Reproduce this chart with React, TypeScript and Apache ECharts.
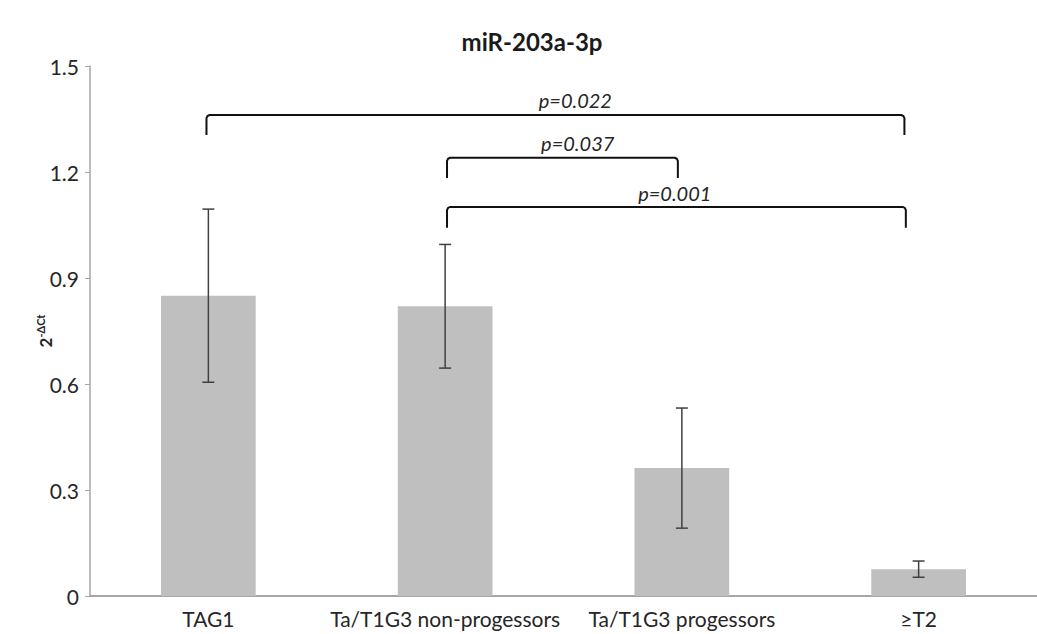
import React, { useEffect, useRef } from "react";
import * as echarts from "echarts";

const categories = ["TAG1", "Ta/T1G3 non-progessors", "Ta/T1G3 progessors", "≥T2"];
const means = [0.85, 0.82, 0.362, 0.076];
const errors = [0.245, 0.175, 0.17, 0.023];
const yTicks = [0, 0.3, 0.6, 0.9, 1.2, 1.5];

// significance brackets: left/right position in category units, bracket top & leg bottom values
const bracketLabels = ["p=0.022", "p=0.037", "p=0.001"];
const bracketLeft = [-0.008, 1.008, 1.008];
const bracketRight = [2.94, 1.983, 2.946];
const bracketTop = [1.361, 1.24, 1.101];
const bracketBottom = [1.305, 1.183, 1.042];
const labelX = [1.55, 1.56, 1.97];
const labelY = [1.404, 1.282, 1.141];

const FONT = "Lato, 'Open Sans', sans-serif";

export default function App() {
  const ref = useRef<HTMLDivElement>(null);
  useEffect(() => {
    if (!ref.current) return;
    const chart = echarts.init(ref.current, undefined, { renderer: "svg" });
    const errData = means.map((m, i) => [i, m - errors[i], m + errors[i]]);
    const brData = bracketLabels.map((_, i) => [0, bracketTop[i]]);
    const xAt = (api: any, f: number, y: number) => {
      const c0 = api.coord([0, y]);
      const c1 = api.coord([1, y]);
      return c0[0] + f * (c1[0] - c0[0]);
    };
    chart.setOption({
      animation: false,
      title: {
        text: "miR-203a-3p",
        left: 527,
        textAlign: "center",
        top: 24,
        textStyle: { fontFamily: FONT, fontWeight: "bold", fontSize: 24, color: "#1a1a1a" },
      },
      grid: { left: 90, top: 66, width: 959, height: 530, containLabel: false },
      xAxis: {
        type: "category",
        data: categories,
        axisLine: { lineStyle: { color: "#a6a6a6", width: 2 } },
        axisTick: { show: false },
        axisLabel: { fontFamily: FONT, fontSize: 21, color: "#262626", margin: 12, interval: 0 },
      },
      yAxis: {
        type: "value",
        min: 0,
        max: 1.5,
        interval: 0.3,
        name: "{a|2}{b|-ΔCt}",
        nameLocation: "middle",
        nameGap: 35,
        nameRotate: 90,
        nameMoveOverlap: false,
        nameTextStyle: {
          rich: {
            a: { fontFamily: FONT, fontSize: 17, fontWeight: "bold", color: "#262626" },
            b: { fontFamily: FONT, fontSize: 11, fontWeight: "bold", color: "#262626", padding: [0, 0, 9, 0] },
          },
        },
        splitLine: { show: false },
        axisLine: { show: true, lineStyle: { color: "#a6a6a6", width: 1.5 } },
        axisTick: { show: true, length: 5, lineStyle: { color: "#a6a6a6" } },
        axisLabel: {
          fontFamily: FONT,
          fontSize: 21,
          color: "#262626",
          margin: 11,
          formatter: (v: number) => {
            const t = yTicks.find((k) => Math.abs(k - v) < 1e-9);
            return t === undefined ? "" : t === 0 ? "0" : t.toFixed(1);
          },
        },
      },
      series: [
        {
          type: "bar",
          data: means,
          barWidth: "40%",
          itemStyle: { color: "#bfbfbf" },
          silent: true,
        },
        {
          type: "custom",
          data: errData,
          encode: { x: 0, y: [1, 2] },
          renderItem: (params: any, api: any) => {
            const i = api.value(0);
            const lo = api.coord([i, api.value(1)]);
            const hi = api.coord([i, api.value(2)]);
            const w = 6;
            const style = { stroke: "#404040", lineWidth: 1.5 };
            return {
              type: "group",
              children: [
                { type: "line", shape: { x1: hi[0], y1: hi[1], x2: lo[0], y2: lo[1] }, style },
                { type: "line", shape: { x1: hi[0] - w, y1: hi[1], x2: hi[0] + w, y2: hi[1] }, style },
                { type: "line", shape: { x1: lo[0] - w, y1: lo[1], x2: lo[0] + w, y2: lo[1] }, style },
              ],
            };
          },
          z: 5,
        },
        {
          type: "custom",
          data: brData,
          encode: { x: 0, y: 1 },
          renderItem: (params: any, api: any) => {
            const k = params.dataIndex;
            const yT = api.coord([0, bracketTop[k]])[1];
            const yB = api.coord([0, bracketBottom[k]])[1];
            const xL = xAt(api, bracketLeft[k], bracketTop[k]);
            const xR = xAt(api, bracketRight[k], bracketTop[k]);
            const lx = xAt(api, labelX[k], labelY[k]);
            const ly = api.coord([0, labelY[k]])[1];
            const r = 3;
            return {
              type: "group",
              children: [
                {
                  type: "polyline",
                  shape: {
                    points: [
                      [xL, yB],
                      [xL, yT + r],
                      [xL + 1, yT + 1],
                      [xL + r, yT],
                      [xR - r, yT],
                      [xR - 1, yT + 1],
                      [xR, yT + r],
                      [xR, yB],
                    ],
                  },
                  style: { stroke: "#111", lineWidth: 2, fill: "none" },
                },
                {
                  type: "text",
                  x: lx,
                  y: ly,
                  style: {
                    text: bracketLabels[k],
                    fontFamily: FONT,
                    fontStyle: "italic",
                    fontSize: 20,
                    fill: "#262626",
                    align: "center",
                    verticalAlign: "middle",
                  },
                },
              ],
            };
          },
          z: 6,
        },
      ],
    });
    return () => chart.dispose();
  }, []);
  return (
    <div
      ref={ref}
      style={{ position: "fixed", left: 0, top: 0, width: 1037, height: 634, background: "#fff" }}
    />
  );
}
